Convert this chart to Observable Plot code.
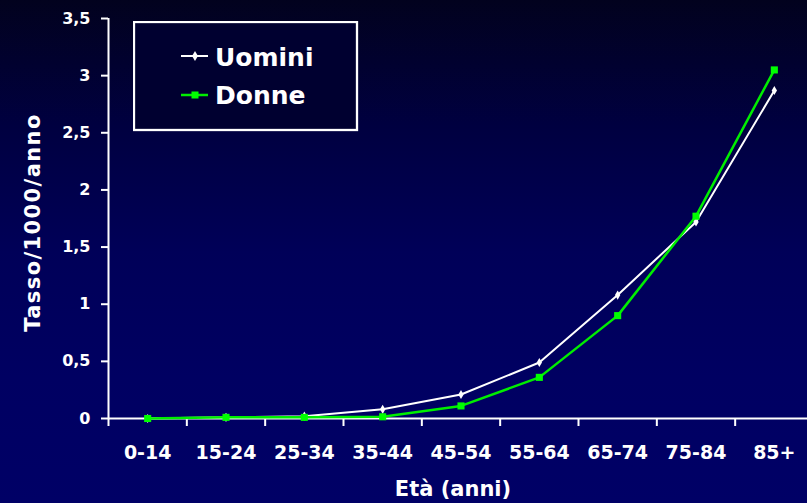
<!DOCTYPE html>
<html><head><meta charset="utf-8">
<script src="https://cdn.jsdelivr.net/npm/d3@7"></script>
<script src="https://cdn.jsdelivr.net/npm/@observablehq/plot@0.6"></script>
<style>
html,body{margin:0;padding:0;overflow:hidden;background:#000066;}
#chart{position:relative;width:807px;height:503px;overflow:hidden;
  background:linear-gradient(to bottom,#02021e 0%,#000040 25%,#000058 50%,#000062 75%,#000066 100%);
  font-family:"DejaVu Sans";font-weight:bold;color:#fff;}
#chart svg.plot{position:absolute;left:0;top:0;}
#legend{position:absolute;left:133px;top:21px;}
</style></head><body><div id="chart"></div>
<script>
const categories = ["0-14","15-24","25-34","35-44","45-54","55-64","65-74","75-84","85+"];
const uomini = [0, 0.01, 0.02, 0.08, 0.21, 0.49, 1.08, 1.72, 2.87];
const donne  = [0, 0.01, 0.01, 0.015, 0.11, 0.36, 0.90, 1.77, 3.05];
const yTicks = [0, 0.5, 1, 1.5, 2, 2.5, 3, 3.5];
const seriesNames = ["Uomini", "Donne"];
const seriesColors = ["#ffffff", "#00ee00"];
const xTitle = "Età (anni)";
const yTitle = "Tasso/1000/anno";

const rows = categories.map((c, i) => ({i, cat: c, Uomini: uomini[i], Donne: donne[i]}));
const boundaries = categories.map((_, i) => i - 0.5).concat([categories.length - 0.5]);

const plot = Plot.plot({
  width: 807, height: 503,
  marginLeft: 108, marginRight: -6, marginTop: 18, marginBottom: 85,
  style: {background: "transparent", color: "#fff", fontFamily: "DejaVu Sans", fontWeight: "bold", overflow: "visible"},
  x: {type: "linear", domain: [-0.5, categories.length - 0.5], axis: null},
  y: {domain: [0, 3.5], axis: null},
  marks: [
    Plot.axisY({ticks: yTicks, tickSize: 7, tickPadding: 11, tickFormat: d => String(d).replace(".", ","),
      fontSize: 16, stroke: "#fff", strokeWidth: 2, fill: "#fff", label: null}),
    Plot.axisX({ticks: boundaries, tickSize: 8, tickFormat: () => "", stroke: "#fff", strokeWidth: 2, label: null}),
    Plot.axisX({ticks: categories.map((_, i) => i), tickSize: 0, tickPadding: 27, tickFormat: i => categories[i],
      fontSize: 19, fill: "#fff", label: null}),
    Plot.ruleY([0], {stroke: "#fff", strokeWidth: 2}),
    Plot.ruleX([-0.5], {stroke: "#fff", strokeWidth: 2}),
    Plot.line(rows, {x: "i", y: "Uomini", stroke: seriesColors[0], strokeWidth: 2}),
    Plot.line(rows, {x: "i", y: "Donne", stroke: seriesColors[1], strokeWidth: 2.5}),
    Plot.dot(rows, {x: "i", y: "Uomini", symbol: "diamond", r: 2.8, fill: "#ffffff"}),
    Plot.dot(rows, {x: "i", y: "Donne", symbol: "square", r: 4, fill: "#00ff00"}),
    Plot.text([yTitle], {frameAnchor: "left", text: d => d, rotate: -90, dx: -69, dy: 4,
      textAnchor: "middle", lineAnchor: "bottom", fontSize: 21, fill: "#fff"}),
    Plot.text([xTitle], {frameAnchor: "bottom", text: d => d, dx: -8, dy: 77,
      textAnchor: "middle", lineAnchor: "bottom", fontSize: 21, fill: "#fff"})
  ]
});
d3.select(plot).selectAll("text").filter(function () { return this.textContent === yTitle; })
  .style("letter-spacing", "1.4px");
const chart = document.getElementById("chart");
chart.appendChild(plot);

// legend
const lg = d3.create("svg").attr("id", "legend").attr("width", 226).attr("height", 112);
lg.append("rect").attr("x", 1).attr("y", 1).attr("width", 223).attr("height", 108)
  .attr("fill", "#000030").attr("stroke", "#fff").attr("stroke-width", 2.3);
seriesNames.forEach((name, k) => {
  const cy = k === 0 ? 35 : 74;
  lg.append("line").attr("x1", 48).attr("x2", 75).attr("y1", cy).attr("y2", cy)
    .attr("stroke", seriesColors[k]).attr("stroke-width", k === 0 ? 2 : 2.5);
  if (k === 0) {
    lg.append("path").attr("d", d3.symbol(d3.symbolDiamond, 30)()).attr("transform", `translate(62,${cy})`).attr("fill", "#fff");
  } else {
    lg.append("rect").attr("x", 58.5).attr("y", cy - 3.5).attr("width", 7).attr("height", 7).attr("fill", "#00ff00");
  }
  lg.append("text").attr("x", 82).attr("y", k === 0 ? 45 : 83).attr("fill", "#fff")
    .attr("font-family", "DejaVu Sans").attr("font-weight", "bold").attr("font-size", 25).text(name);
});
chart.appendChild(lg.node());
</script></body></html>
